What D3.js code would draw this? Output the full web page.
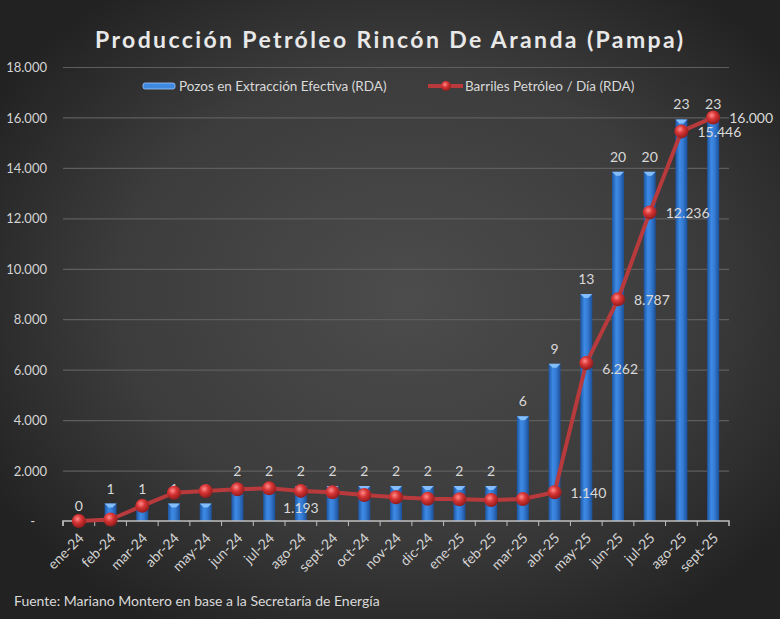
<!DOCTYPE html>
<html>
<head>
<meta charset="utf-8">
<script src="https://cdn.jsdelivr.net/npm/d3@7"></script>
<style>
  html, body { margin: 0; padding: 0; background: #2b2b2b; }
  svg { display: block; }
  text { font-family: Lato, "Open Sans", "DejaVu Sans", sans-serif; }
</style>
</head>
<body>
<svg id="chart" width="780" height="619"></svg>
<script>
// ---------- DATA ----------
const months = ["ene-24","feb-24","mar-24","abr-24","may-24","jun-24","jul-24","ago-24","sept-24","oct-24","nov-24","dic-24","ene-25","feb-25","mar-25","abr-25","may-25","jun-25","jul-25","ago-25","sept-25"];
const wells = [0,1,1,1,1,2,2,2,2,2,2,2,2,2,6,9,13,20,20,23,23];
const barrels = [0,60,600,1120,1190,1255,1295,1193,1140,1030,940,885,860,830,870,1140,6262,8787,12236,15446,16000];
const barrelLabelIdx = [7,15,16,17,18,19,20];
const yTicks = [0,2000,4000,6000,8000,10000,12000,14000,16000,18000];
const titleText = "Producción Petróleo Rincón De Aranda (Pampa)";
const legendWells = "Pozos en Extracción Efectiva (RDA)";
const legendBarrels = "Barriles Petróleo / Día (RDA)";
const sourceText = "Fuente: Mariano Montero en base a la Secretaría de Energía";

// ---------- LAYOUT ----------
const W = 780, H = 619;
const svg = d3.select("#chart");
const defs = svg.append("defs");

const bg = defs.append("radialGradient").attr("id","bg")
  .attr("cx","52%").attr("cy","48%").attr("r","62%");
bg.append("stop").attr("offset","0%").attr("stop-color","#4c4c4c");
bg.append("stop").attr("offset","60%").attr("stop-color","#3c3c3c");
bg.append("stop").attr("offset","100%").attr("stop-color","#222222");
svg.append("rect").attr("width",W).attr("height",H).attr("fill","url(#bg)");

const barGrad = defs.append("linearGradient").attr("id","barGrad")
  .attr("x1","0%").attr("x2","100%").attr("y1","0%").attr("y2","0%");
barGrad.append("stop").attr("offset","0%").attr("stop-color","#1d55a0");
barGrad.append("stop").attr("offset","35%").attr("stop-color","#3d8ae6");
barGrad.append("stop").attr("offset","60%").attr("stop-color","#367cd4");
barGrad.append("stop").attr("offset","100%").attr("stop-color","#1c5098");

const ballGrad = defs.append("radialGradient").attr("id","ball")
  .attr("cx","40%").attr("cy","35%").attr("r","65%");
ballGrad.append("stop").attr("offset","0%").attr("stop-color","#ff8c8c");
ballGrad.append("stop").attr("offset","45%").attr("stop-color","#d83434");
ballGrad.append("stop").attr("offset","100%").attr("stop-color","#8e1c1c");

const x0 = 63, x1 = 729, yBottom = 521, yTop = 67;
const x = d3.scaleBand().domain(months).range([x0, x1]).padding(0);
const y = d3.scaleLinear().domain([0, 18000]).range([yBottom, yTop]);
const yW = d3.scaleLinear().domain([0, 26]).range([yBottom, yTop]);
const fmt = d3.formatLocale({decimal: ",", thousands: ".", grouping: [3], currency: ["$",""]}).format(",.0f");

// Title
svg.append("text").attr("x", 389).attr("y", 48).attr("text-anchor","middle")
  .attr("fill","#e8e8e8").attr("font-size", 23).attr("font-weight","bold")
  .attr("textLength", 588).attr("lengthAdjust","spacing")
  .text(titleText);

// Gridlines
const grid = svg.append("g");
grid.selectAll("line").data(yTicks.filter(d => d > 0)).join("line")
  .attr("x1", x0).attr("x2", x1)
  .attr("y1", d => y(d) + 0.5).attr("y2", d => y(d) + 0.5)
  .attr("stroke", "#5e5e5e").attr("stroke-width", 1.2);

// Y axis (labels only)
const yAxis = d3.axisLeft(y).tickValues(yTicks).tickSize(0)
  .tickFormat(d => d === 0 ? "-" : fmt(d));
const gy = svg.append("g").attr("transform", `translate(${x0 - 16},0)`).call(yAxis);
gy.select(".domain").remove();
gy.selectAll("text").attr("fill","#d4d4d4").attr("font-size", 13).attr("x", 0).attr("dy","0.35em");
gy.selectAll(".tick").filter(d => d === 0).select("text").attr("x", -12);

// Bars
const bw = 12;
const bars = svg.append("g");
bars.selectAll("rect").data(months).join("rect")
  .attr("x", d => x(d) + x.bandwidth()/2 - bw/2)
  .attr("width", bw)
  .attr("y", (d,i) => yW(wells[i]))
  .attr("height", (d,i) => yBottom - yW(wells[i]))
  .attr("fill", "url(#barGrad)");
bars.selectAll("path.cap").data(months.filter((d,i) => wells[i] > 0)).join("path")
  .attr("class","cap")
  .attr("d", d => {
    const i = months.indexOf(d);
    const cx = x(d) + x.bandwidth()/2, ty = yW(wells[i]);
    return `M${cx - bw/2},${ty} L${cx + bw/2},${ty} L${cx + 2},${ty + 4} L${cx - 2},${ty + 4} Z`;
  })
  .attr("fill", "#8cc4ff").attr("opacity", 0.9);

// X axis
const xAxis = d3.axisBottom(x).tickSize(5).tickSizeOuter(5);
const gx = svg.append("g").attr("transform", `translate(0,${yBottom})`).call(xAxis);
gx.select(".domain").attr("stroke","#bfbfbf").attr("stroke-width",1.5)
  .attr("d", `M${x0},5V0H${x1}V5`);
gx.selectAll(".tick line").attr("stroke","#bfbfbf")
  .attr("transform", `translate(${-x.bandwidth()/2},0)`);
gx.selectAll(".tick text").attr("fill","#d4d4d4").attr("font-size", 14)
  .attr("text-anchor","end").attr("dy", 0).attr("y", 0)
  .attr("transform", "translate(6,18) rotate(-45)");

// Well labels
svg.append("g").selectAll("text").data(months).join("text")
  .attr("x", d => x(d) + x.bandwidth()/2)
  .attr("y", (d,i) => yW(wells[i]) - 10)
  .attr("text-anchor","middle").attr("fill","#d9d9d9").attr("font-size", 14)
  .text((d,i) => wells[i]);

// Line
const px = i => x(months[i]) + x.bandwidth()/2;
const line = d3.line().x((d,i) => px(i)).y(d => y(d));
svg.append("path").datum(barrels).attr("d", line)
  .attr("fill","none").attr("stroke","#b93a3c").attr("stroke-width", 4)
  .attr("stroke-linejoin","round");
svg.append("g").selectAll("circle").data(barrels).join("circle")
  .attr("cx", (d,i) => px(i)).attr("cy", d => y(d)).attr("r", 7)
  .attr("fill", "url(#ball)");

// Line labels
svg.append("g").selectAll("text").data(barrelLabelIdx).join("text")
  .attr("x", i => i === 7 ? px(i) : px(i) + 16)
  .attr("y", i => i === 7 ? y(barrels[i]) + 17 : y(barrels[i]) + (i === 16 ? 6 : 1))
  .attr("dy","0.35em")
  .attr("text-anchor", i => i === 7 ? "middle" : "start")
  .attr("fill","#d9d9d9").attr("font-size", 14)
  .text(i => fmt(barrels[i]));

// Legend
const lg = svg.append("g");
lg.append("rect").attr("x",143).attr("y",83).attr("width",32).attr("height",6).attr("rx",2)
  .attr("fill","#3f8ae0").attr("stroke","#9cc8ff").attr("stroke-width",0.8);
lg.append("text").attr("x",179).attr("y",86).attr("dy","0.35em")
  .attr("fill","#d9d9d9").attr("font-size",13.5).text(legendWells);
lg.append("line").attr("x1",428).attr("x2",463).attr("y1",86).attr("y2",86)
  .attr("stroke","#b93a3c").attr("stroke-width",4);
lg.append("circle").attr("cx",446).attr("cy",86).attr("r",5).attr("fill","url(#ball)");
lg.append("text").attr("x",465).attr("y",86).attr("dy","0.35em")
  .attr("fill","#d9d9d9").attr("font-size",13.5).text(legendBarrels);

// Source
svg.append("text").attr("x",14).attr("y",601).attr("dy","0.35em")
  .attr("fill","#d9d9d9").attr("font-size",14).text(sourceText);
</script>
</body>
</html>
